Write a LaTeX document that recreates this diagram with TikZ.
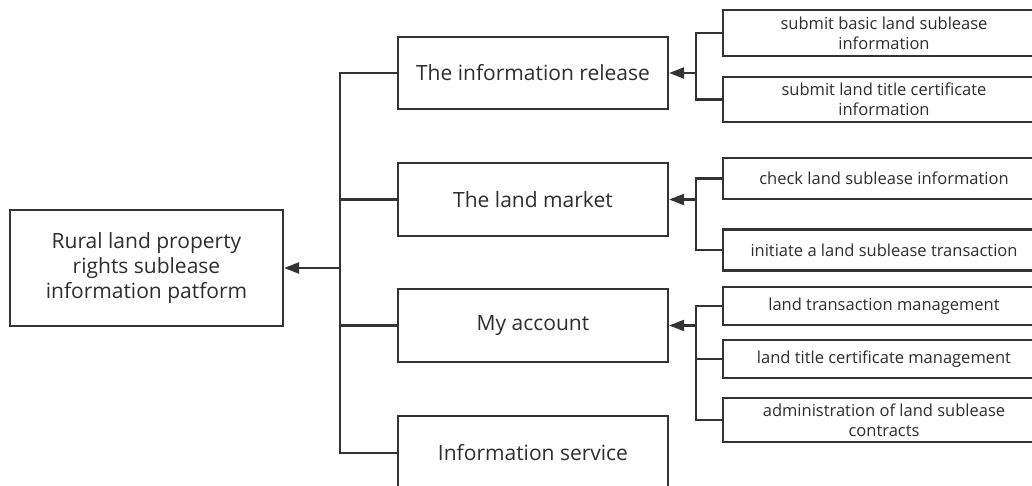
\documentclass[tikz,border=0pt]{standalone}
\usepackage{fontspec}
\setmainfont{Open Sans}
\usetikzlibrary{arrows.meta}
\definecolor{ln}{HTML}{333333}
\definecolor{tx}{HTML}{2E2E2E}
\tikzset{
  box/.style={draw=ln, line width=2.2pt, fill=white, inner sep=0pt, align=center, text=tx},
  big/.style={box, font=\fontsize{21}{25}\selectfont},
  small/.style={box, font=\fontsize{16.5}{20}\selectfont, minimum width=322pt},
  conn/.style={draw=ln, line width=2.2pt},
  arr/.style={conn, -{Triangle[length=15pt,width=11pt]}}
}
\begin{document}
\begin{tikzpicture}[x=1pt,y=-1pt]
\useasboundingbox[fill=white] (0,0) rectangle (1032,486);
\clip (0,0) rectangle (1032,486);
% main
\node[big, minimum width=273pt, minimum height=116pt] (main) at (146.5,268) {Rural land property\\rights sublease\\information patform};
% second level
\node[big, minimum width=270pt, minimum height=72pt] (ir) at (533,73) {The information release};
\node[big, minimum width=270pt, minimum height=73pt] (lm) at (533,199.5) {The land market};
\node[big, minimum width=270pt, minimum height=73pt] (ma) at (533,325.5) {My account};
\node[big, minimum width=270pt, minimum height=74pt] (is) at (533,453) {Information service};
% third level
\node[small, minimum height=46pt] (s1) at (884,33) {submit basic land sublease\\information};
\node[small, minimum height=45pt] (s2) at (884,99.5) {submit land title certificate\\information};
\node[small, minimum height=41pt] (s3) at (884,178.5) {check land sublease information};
\node[small, minimum height=41pt] (s4) at (884,250) {initiate a land sublease transaction};
\node[small, minimum height=38pt] (s5) at (884,306) {land transaction management};
\node[small, minimum height=38pt] (s6) at (884,359) {land title certificate management};
\node[small, minimum height=44pt] (s7) at (884,420) {administration of land sublease\\contracts};
% bus coordinates
\coordinate (bus) at (340,0);
\coordinate (sb) at (696,0);
% main bus
\draw[conn] (ir.west) -- (ir.west -| bus) -- (is.west -| bus) -- (is.west);
\draw[conn] (lm.west) -- (lm.west -| bus);
\draw[conn] (ma.west) -- (ma.west -| bus);
\draw[arr] (main.east -| bus) -- (main.east);
% sub buses
\draw[conn] (s1.west) -- (s1.west -| sb) -- (s2.west -| sb) -- (s2.west);
\draw[arr] (ir.east -| sb) -- (ir.east);
\draw[conn] (s3.west) -- (s3.west -| sb) -- (s4.west -| sb) -- (s4.west);
\draw[arr] (lm.east -| sb) -- (lm.east);
\draw[conn] (s5.west) -- (s5.west -| sb) -- (s7.west -| sb) -- (s7.west);
\draw[conn] (s6.west) -- (s6.west -| sb);
\draw[arr] (ma.east -| sb) -- (ma.east);
\end{tikzpicture}
\end{document}
